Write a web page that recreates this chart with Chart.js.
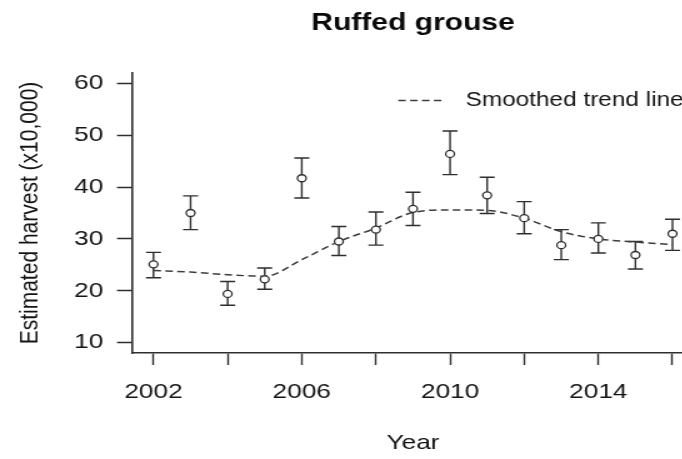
<!DOCTYPE html>
<html>
<head>
<meta charset="utf-8">
<script src="https://cdn.jsdelivr.net/npm/chart.js@4.4.1/dist/chart.umd.min.js"></script>
<style>
  html, body { margin: 0; padding: 0; background: #fff; }
  #frame { width: 682px; height: 459px; overflow: hidden; position: relative; }
  /* the figure is drawn on a narrower canvas and widened horizontally */
  #c { transform: scaleX(1.25); transform-origin: 0 0; }
</style>
</head>
<body>
<div id="frame"><canvas id="c" width="560" height="459"></canvas></div>
<script>
// Survey years
const years = [2002, 2003, 2004, 2005, 2006, 2007, 2008, 2009, 2010, 2011, 2012, 2013, 2014, 2015, 2016];
// Estimated harvest (x10,000) and its interval bounds
const harvest = [25.1, 35.0, 19.4, 22.2, 41.7, 29.5, 31.8, 35.8, 46.4, 38.4, 34.0, 28.8, 30.0, 26.9, 31.0];
const lower   = [22.5, 31.8, 17.2, 20.3, 37.9, 26.8, 28.8, 32.6, 42.4, 34.9, 31.0, 26.0, 27.3, 24.2, 27.8];
const upper   = [27.4, 38.3, 21.8, 24.4, 45.6, 32.4, 35.2, 39.0, 50.8, 41.9, 37.2, 31.8, 33.1, 29.5, 33.8];
// Smoothed trend through the estimates
const trend   = [23.9, 23.6, 23.1, 22.8, 26.0, 29.5, 32.1, 35.1, 35.6, 35.5, 34.0, 31.4, 30.0, 29.4, 28.9];
// Axis ticks and labels
const yTicks  = [10, 20, 30, 40, 50, 60];
const xLabels = [2002, 2006, 2010, 2014];

const chartTitle = 'Ruffed grouse';
const xTitle = 'Year';
const yTitle = 'Estimated harvest (x10,000)';
const trendLabel = 'Smoothed trend line';

const FONT = "'Liberation Sans', Arial, Helvetica, sans-serif";
const INK = '#2e2e2e';
const TEXT = '#141414';

// vertical interval bars with end caps, drawn under the point markers
const errorBars = {
  id: 'errorBars',
  beforeDatasetsDraw(chart) {
    const { ctx, scales: { x, y } } = chart;
    ctx.save();
    ctx.strokeStyle = INK;
    ctx.lineWidth = 1.4;
    years.forEach((yr, i) => {
      const px = x.getPixelForValue(yr);
      const lo = y.getPixelForValue(lower[i]);
      const hi = y.getPixelForValue(upper[i]);
      ctx.beginPath();
      ctx.moveTo(px, lo); ctx.lineTo(px, hi);
      ctx.moveTo(px - 6, lo); ctx.lineTo(px + 6, lo);
      ctx.moveTo(px - 6, hi); ctx.lineTo(px + 6, hi);
      ctx.stroke();
    });
    ctx.restore();
  }
};

// key for the dashed trend line, placed in the upper right of the plot
const trendKey = {
  id: 'trendKey',
  afterDraw(chart) {
    const { ctx, chartArea } = chart;
    const ds = chart.data.datasets[1];
    const y = chartArea.top + 27.5;
    ctx.save();
    ctx.strokeStyle = ds.borderColor;
    ctx.lineWidth = ds.borderWidth;
    ctx.setLineDash(ds.borderDash);
    ctx.beginPath();
    ctx.moveTo(chartArea.right - 236.6, y);
    ctx.lineTo(chartArea.right - 200.6, y);
    ctx.stroke();
    ctx.setLineDash([]);
    ctx.fillStyle = TEXT;
    ctx.font = '19.5px ' + FONT;
    ctx.textBaseline = 'middle';
    ctx.textAlign = 'left';
    ctx.fillText(ds.label, chartArea.right - 182.8, y);
    ctx.restore();
  }
};

new Chart(document.getElementById('c'), {
  type: 'scatter',
  data: {
    datasets: [
      {
        label: 'Estimate',
        data: years.map((yr, i) => ({ x: yr, y: harvest[i] })),
        showLine: false,
        pointRadius: 3.5,
        pointHoverRadius: 3.5,
        pointBorderWidth: 1.3,
        pointBorderColor: INK,
        pointBackgroundColor: '#ffffff'
      },
      {
        label: trendLabel,
        data: years.map((yr, i) => ({ x: yr, y: trend[i] })),
        showLine: true,
        borderColor: '#3c3c3c',
        borderWidth: 1.5,
        borderDash: [6, 3.5],
        pointRadius: 0,
        cubicInterpolationMode: 'monotone',
        fill: false
      }
    ]
  },
  options: {
    responsive: false,
    animation: false,
    events: [],
    layout: { padding: { top: 0, right: 3.4, left: 0, bottom: 0 } },
    plugins: {
      legend: { display: false },
      tooltip: { enabled: false },
      title: {
        display: true,
        text: chartTitle,
        fullSize: false,
        color: '#0a0a0a',
        font: { family: FONT, size: 24, weight: 'bold' },
        padding: { top: 9, bottom: 35.2 }
      }
    },
    scales: {
      x: {
        type: 'linear',
        min: 2001.42,
        max: 2016.58,
        afterFit(s) { s.height = 106; },
        border: { display: true, color: INK, width: 1.6 },
        grid: { display: true, drawOnChartArea: false, drawTicks: true, tickLength: 12, tickWidth: 1.4, tickColor: INK },
        ticks: {
          stepSize: 2,
          includeBounds: false,
          autoSkip: false,
          maxRotation: 0,
          minRotation: 0,
          padding: 14.4,
          color: TEXT,
          font: { family: FONT, size: 21 },
          callback: v => (xLabels.includes(v) ? String(v) : '')
        },
        title: { display: true, text: xTitle, color: TEXT, font: { family: FONT, size: 21 }, padding: { top: 0, bottom: 3.4 } }
      },
      y: {
        type: 'linear',
        min: 8,
        max: 62,
        afterFit(s) { s.width = 105.6; },
        border: { display: true, color: INK, width: 1.6 },
        grid: { display: true, drawOnChartArea: false, drawTicks: true, tickLength: 12, tickWidth: 1.5, tickColor: INK },
        ticks: {
          stepSize: 10,
          includeBounds: false,
          padding: 11,
          color: TEXT,
          font: { family: FONT, size: 21 },
          callback: v => (yTicks.includes(v) ? String(v) : '')
        },
        title: { display: true, text: yTitle, color: TEXT, font: { family: FONT, size: 21 }, padding: { top: 11.4, bottom: 0 } }
      }
    }
  },
  plugins: [errorBars, trendKey]
});
</script>
</body>
</html>
